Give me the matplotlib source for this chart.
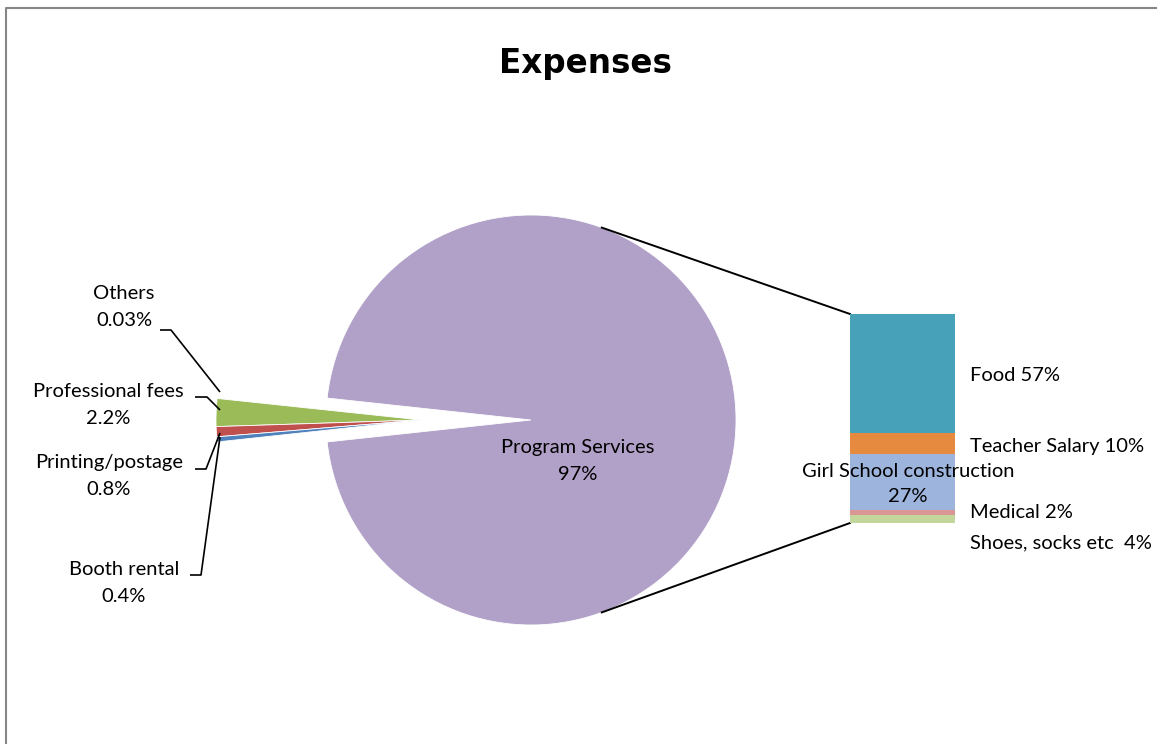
## Import libraries
import numpy as np
import matplotlib.pyplot as plt

## Data
# Pie: small slices first, the big one last (it is broken down in the bar)
pie_names = ['Others', 'Professional fees', 'Printing/postage', 'Booth rental', 'Program Services']
pie_values = [0.03, 2.2, 0.8, 0.4, 97]
pie_pct = ['0.03%', '2.2%', '0.8%', '0.4%', '97%']
pie_colors = ['#8064A2', '#9BBB59', '#C0504D', '#4F81BD', '#B1A0C7']

# Bar: breakdown of Program Services, top to bottom
bar_names = ['Food', 'Teacher Salary', 'Girl School construction', 'Medical', 'Shoes, socks etc ']
bar_values = [57, 10, 27, 2, 4]
bar_colors = ['#46A1B9', '#E68A40', '#9DB4DD', '#DA9694', '#C3D69B']

## Layout (pixels, y measured from the top)
W, H = 1157, 744
def py(y):
    return H - y

cx, cy, R = 531, py(420), 205
shift = 110                      # how far the small slices are pulled out
bar_box = (850, 314, 955, 523)   # left, top, right, bottom
lab_font = 'Lato'
lab_size = 14.5
lsp = 1.7

fig = plt.figure(figsize=(W / 100, H / 100), dpi=100)
ax = fig.add_axes([0, 0, 1, 1])

# start so that the small slices sit centred on the left side
small = sum(pie_values[:4]) / sum(pie_values) * 360
wedges, _ = ax.pie(pie_values, colors=pie_colors, startangle=180 - small / 2,
                   center=(cx, cy), radius=R,
                   wedgeprops=dict(edgecolor='white', linewidth=0.6))
for w in wedges[:4]:
    w.set_center((cx - shift, cy))

ax.set_xlim(0, W)
ax.set_ylim(0, H)
ax.set_aspect('equal')
ax.axis('off')

# chart border (only left/top are inside the picture)
ax.plot([6, 6, W + 10], [-10, py(8), py(8)], color='#868686', lw=1.5)

# title
ax.text(585, py(63), 'Expenses', ha='center', va='center',
        fontsize=23.5, fontweight='bold', family='DejaVu Sans')

# labels of the pie slices
lab_pos = [(124, 307), (108, 405), (109, 476), (124, 583), (578, 461)]
for name, pct, (x, y) in zip(pie_names, pie_pct, lab_pos):
    ax.text(x, py(y), name + '\n' + pct, ha='center', va='center',
            family=lab_font, fontsize=lab_size, linespacing=lsp)

# leader lines
leaders = [
    [(160, 330), (171, 330), (220, 392)],
    [(195, 397), (207, 397), (220, 410)],
    [(195, 469), (206, 469), (220, 433)],
    [(190, 575), (201, 575), (220, 437)],
]
for pts in leaders:
    xs = [p[0] for p in pts]
    ys = [py(p[1]) for p in pts]
    ax.plot(xs, ys, color='black', lw=1.2, solid_capstyle='butt')

# connector lines pie -> bar
a = np.deg2rad(69.8)
ax.plot([cx + R * np.cos(a), bar_box[0]], [cy + R * np.sin(a), py(bar_box[1])],
        color='black', lw=1.4)
ax.plot([cx + R * np.cos(a), bar_box[0]], [cy - R * np.sin(a), py(bar_box[3])],
        color='black', lw=1.4)

## Bar of the breakdown
bw = bar_box[2] - bar_box[0]
bh = bar_box[3] - bar_box[1]
bax = fig.add_axes([bar_box[0] / W, py(bar_box[3]) / H, bw / W, bh / H])
vals = bar_values[::-1]
cols = bar_colors[::-1]
bottoms = np.concatenate([[0], np.cumsum(vals)[:-1]])
bax.bar(0, vals, bottom=bottoms, width=1, color=cols, linewidth=0)
bax.set_xlim(-0.5, 0.5)
bax.set_ylim(0, sum(bar_values))
bax.axis('off')

# label offsets (data units) and x placement
centers = (bottoms + np.array(vals) / 2)[::-1]
lab_dy = [-0.7, -1.2, -0.8, -0.2, -11.6]
xr = 0.5 + 15 / bw
for i, (name, v) in enumerate(zip(bar_names, bar_values)):
    if i == 2:
        bax.text(0.05, centers[i] + lab_dy[i], name + '\n' + str(v) + '%',
                 ha='center', va='center', family=lab_font, fontsize=lab_size,
                 linespacing=lsp * 0.9, clip_on=False)
    else:
        bax.text(xr, centers[i] + lab_dy[i], name + ' ' + str(v) + '%',
                 ha='left', va='center', family=lab_font, fontsize=lab_size,
                 clip_on=False)

plt.savefig('out.png', dpi=100)
